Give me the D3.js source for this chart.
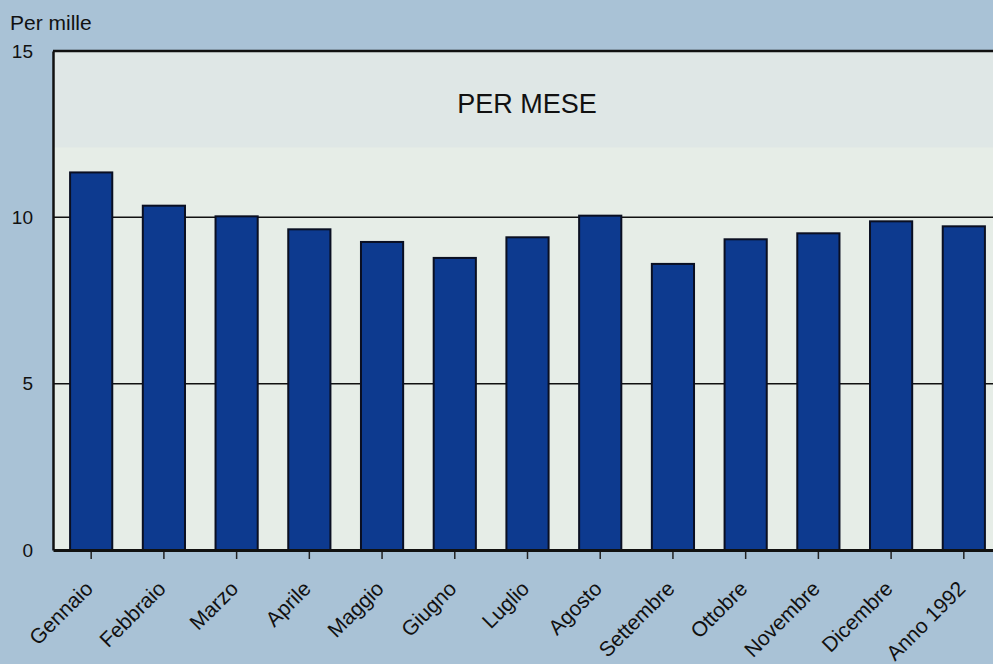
<!DOCTYPE html>
<html>
<head>
<meta charset="utf-8">
<script src="https://cdn.jsdelivr.net/npm/d3@7"></script>
<style>
    body { margin: 0; background: #a9c2d6; }
    svg { display: block; font-family: "Liberation Sans", Arial, sans-serif; }
    .axis text { fill: #111; }
</style>
</head>
<body>
<div id="chart"></div>
<script>
var months = ["Gennaio", "Febbraio", "Marzo", "Aprile", "Maggio", "Giugno", "Luglio",
    "Agosto", "Settembre", "Ottobre", "Novembre", "Dicembre", "Anno 1992"];
var values = [11.35, 10.35, 10.03, 9.64, 9.26, 8.78, 9.4, 10.05, 8.6, 9.34, 9.52, 9.88, 9.73];
var yTicks = [0, 5, 10, 15];

var width = 993
    , height = 664
    , margin = {top: 51, left: 53, bottom: 114, right: -9}
    ;

var w = width - margin.left - margin.right
    , h = height - margin.top - margin.bottom;

var svg = d3.select("#chart")
    .append("svg")
    .attr("width", width)
    .attr("height", height);

svg.append("rect")
    .attr("width", width)
    .attr("height", height)
    .attr("fill", "#a9c2d6");

var g = svg.append("g")
    .attr("transform", "translate(" + margin.left + "," + margin.top + ")");

var x = d3.scaleBand()
    .domain(months)
    .range([0, w])
    .paddingInner(0.42)
    .paddingOuter(0.235);

var y = d3.scaleLinear()
    .domain([0, 15])
    .range([h, 0]);

// plot background, a slightly greyer band at the top
g.append("rect")
    .attr("width", w)
    .attr("height", h)
    .attr("fill", "#e6ede7");

g.append("rect")
    .attr("width", w)
    .attr("height", y(12.1))
    .attr("fill", "#dfe7e6");

// grid lines
g.append("g")
    .selectAll("line")
    .data(yTicks.filter(function(d) { return d > 0 && d < 15; }))
    .enter().append("line")
    .attr("x1", 0).attr("x2", w)
    .attr("y1", function(d) { return y(d); })
    .attr("y2", function(d) { return y(d); })
    .attr("stroke", "#111")
    .attr("stroke-width", 1.5);

g.append("line")
    .attr("x1", 0).attr("x2", w)
    .attr("y1", y(15)).attr("y2", y(15))
    .attr("stroke", "#111")
    .attr("stroke-width", 2.5);

g.append("text")
    .attr("x", 527 - margin.left)
    .attr("y", 113 - margin.top)
    .attr("text-anchor", "middle")
    .attr("font-size", 27)
    .attr("fill", "#111")
    .text("PER MESE");

// bars
g.append("g")
    .selectAll("rect")
    .data(values)
    .enter().append("rect")
    .attr("x", function(d, i) { return x(months[i]); })
    .attr("y", function(d) { return y(d); })
    .attr("width", x.bandwidth())
    .attr("height", function(d) { return h - y(d); })
    .attr("fill", "#0d3a8f")
    .attr("stroke", "#0a0f22")
    .attr("stroke-width", 2);

// axes
var xAxis = d3.axisBottom(x)
    .tickSizeOuter(0)
    .tickSizeInner(9)
    .tickPadding(6);

var gx = g.append("g")
    .attr("class", "axis axis--x")
    .attr("transform", "translate(0," + h + ")")
    .call(xAxis);

gx.select(".domain").attr("stroke", "#111").attr("stroke-width", 3);
gx.selectAll(".tick line").attr("stroke", "#222").attr("stroke-width", 1.5).attr("y1", 2);
gx.selectAll(".tick text")
    .attr("font-size", 21)
    .attr("text-anchor", "end")
    .attr("x", 0)
    .attr("y", 0)
    .attr("dy", 0)
    .attr("transform", "translate(3,40) rotate(-45)");

var yAxis = d3.axisLeft(y)
    .tickValues(yTicks)
    .tickSize(0)
    .tickPadding(20);

var gy = g.append("g")
    .attr("class", "axis axis--y")
    .call(yAxis);

gy.select(".domain").attr("stroke", "#111").attr("stroke-width", 2.5);
gy.selectAll(".tick text").attr("font-size", 19);

svg.append("text")
    .attr("x", 10)
    .attr("y", 30)
    .attr("font-size", 21)
    .attr("fill", "#111")
    .text("Per mille");
</script>
</body>
</html>
